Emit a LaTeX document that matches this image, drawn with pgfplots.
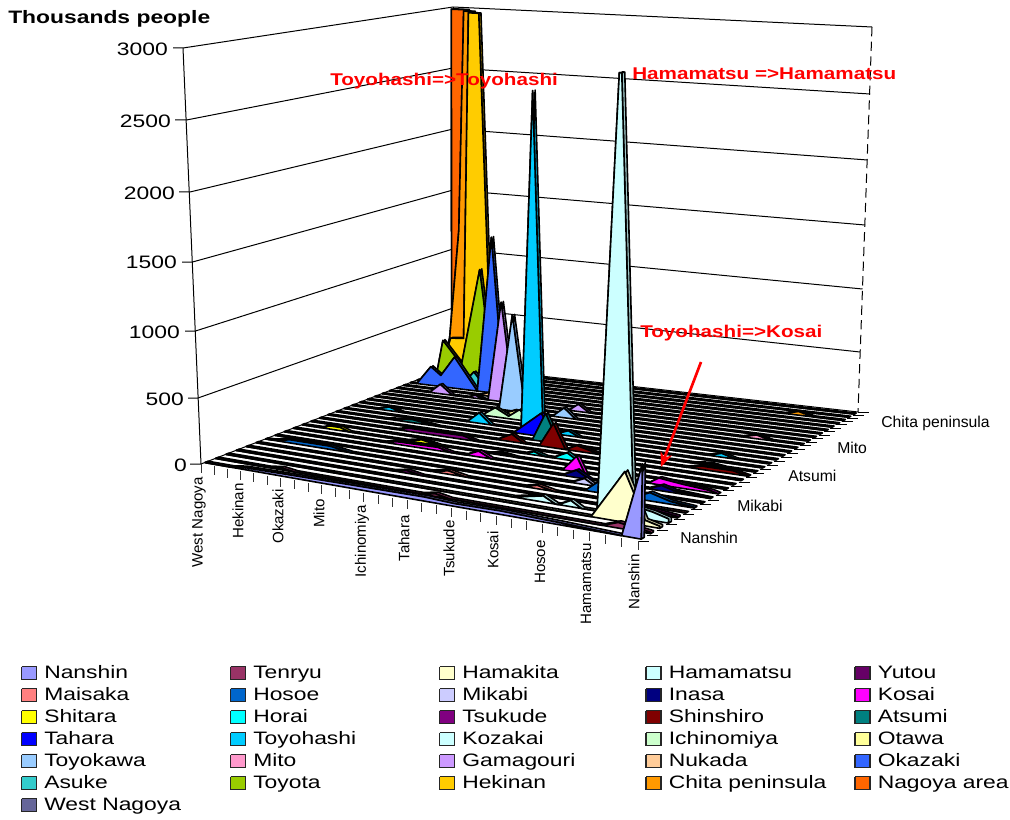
\documentclass[border=0pt]{standalone}
\usepackage{fontspec}
\usepackage{pgfplots}
\pgfplotsset{compat=1.18}
\usetikzlibrary{arrows.meta}
\setmainfont{Liberation Sans}
\newfontfamily\wide[FakeStretch=1.27]{Liberation Sans}
\newfontfamily\redf[FakeStretch=1.215]{Liberation Sans}
\definecolor{c1}{HTML}{9999FF}\definecolor{c2}{HTML}{993366}\definecolor{c3}{HTML}{FFFFCC}
\definecolor{c4}{HTML}{CCFFFF}\definecolor{c5}{HTML}{660066}\definecolor{c6}{HTML}{FF8080}
\definecolor{c7}{HTML}{0066CC}\definecolor{c8}{HTML}{CCCCFF}\definecolor{c9}{HTML}{000080}
\definecolor{c10}{HTML}{FF00FF}\definecolor{c11}{HTML}{FFFF00}\definecolor{c12}{HTML}{00FFFF}
\definecolor{c13}{HTML}{800080}\definecolor{c14}{HTML}{800000}\definecolor{c15}{HTML}{008080}
\definecolor{c16}{HTML}{0000FF}\definecolor{c17}{HTML}{00CCFF}\definecolor{c18}{HTML}{CCFFFF}
\definecolor{c19}{HTML}{CCFFCC}\definecolor{c20}{HTML}{FFFF99}\definecolor{c21}{HTML}{99CCFF}
\definecolor{c22}{HTML}{FF99CC}\definecolor{c23}{HTML}{CC99FF}\definecolor{c24}{HTML}{FFCC99}
\definecolor{c25}{HTML}{3366FF}\definecolor{c26}{HTML}{33CCCC}\definecolor{c27}{HTML}{99CC00}
\definecolor{c28}{HTML}{FFCC00}\definecolor{c29}{HTML}{FF9900}\definecolor{c30}{HTML}{FF6600}
\definecolor{c31}{HTML}{666699}
% (category, depth, value) -> picture position
\newcommand\PT[3]{%
 \pgfmathsetmacro\uU{(31-#1)/30}%
 \pgfmathsetmacro\sU{\uU/(1+0.121*(1-\uU))}%
 \pgfmathsetmacro\sV{#2/(#2+(1-#2)*0.75)}%
 \pgfmathsetmacro\fx{201+437*\sU}\pgfmathsetmacro\fy{464+77*\sU}%
 \pgfmathsetmacro\ex{453+405*\sU}\pgfmathsetmacro\ey{366+46*\sU}%
 \pgfmathsetmacro\bx{\fx+(\ex-\fx)*\sV}\pgfmathsetmacro\by{\fy+(\ey-\fy)*\sV}%
 \pgfmathsetmacro\fx{183+462*\sU}\pgfmathsetmacro\fy{48+37*\sU}%
 \pgfmathsetmacro\ex{453+419*\sU}\pgfmathsetmacro\ey{7+20*\sU}%
 \pgfmathsetmacro\tx{\fx+(\ex-\fx)*\sV}\pgfmathsetmacro\ty{\fy+(\ey-\fy)*\sV}%
 \pgfmathsetmacro\fF{#3/3000}%
 \pgfmathsetmacro\wW{\fF/(\fF+1.06*(1-\fF))}%
 \pgfmathsetmacro\px{\bx+(\tx-\bx)*\wW}\pgfmathsetmacro\py{\by+(\ty-\by)*\wW}%
}
\newcommand\series[3]{%
 \pgfmathsetmacro\vf{(#1-0.5-0.16)/31}%
 \pgfmathsetmacro\vb{(#1-0.5+0.16)/31}%
 \gdef\fP{}\gdef\rB{}%
 \foreach \cc/\vv in {#3}{%
   \PT{\cc}{\vf}{\vv}\xdef\fP{\fP(\px,\py) }%
   \PT{\cc}{\vb}{\vv}\xdef\rB{(\px,\py) \rB}%
 }%
 \PT{1}{\vf}{0}\edef\eF{(\px,\py)}%
 \PT{1}{\vb}{0}\edef\eB{(\px,\py)}%
 \PT{31}{\vf}{0}\edef\sF{(\px,\py)}%
 \edef\tmp{\noexpand\addplot[draw=black,line width=1.2pt,line join=round,fill=#2!78!black] coordinates {\fP \eF \eB \rB \sF};}\tmp
 \edef\tmp{\noexpand\addplot[draw=black,line width=1.2pt,line join=round,fill=#2] coordinates {\fP \eF \sF};}\tmp
}
\newcommand\lgd[4]{%
 \pgfmathsetmacro\xa{#1}\pgfmathsetmacro\xb{#1+15}\pgfmathsetmacro\ya{#2-6.5}\pgfmathsetmacro\yb{#2+6.5}\pgfmathsetmacro\xt{#1+22.5}\pgfmathsetmacro\yt{#2+1.5}%
 \edef\tmp{\noexpand\addplot[draw=black!85,line width=0.9pt,fill=#3] coordinates {(\xa,\ya) (\xb,\ya) (\xb,\yb) (\xa,\yb) (\xa,\ya)};}\tmp
 \edef\tmp{\noexpand\node[anchor=west,inner sep=0pt,font=\noexpand\wide\noexpand\fontsize{13.5}{15}\noexpand\selectfont] at (axis cs:\xt,\yt) {\noexpand\strut #4};}\tmp
}
\newcommand\catlab[3]{\node[rotate=90,anchor=east,inner sep=0pt,font=\fontsize{11.3}{12}\selectfont] at (axis cs:#1,#2) {#3};}
\newcommand\ylab[3]{\node[anchor=east,inner sep=0pt,font=\wide\fontsize{13.5}{15}\selectfont] at (axis cs:#1,#2) {#3};}
\newcommand\dlab[3]{\node[anchor=west,inner sep=0pt,font=\fontsize{11.8}{13}\selectfont] at (axis cs:#1,#2) {#3};}
\newcommand\rlab[3]{\node[anchor=west,inner sep=0pt,text=red,font=\redf\bfseries\fontsize{12.75}{14}\selectfont] at (axis cs:#1,#2) {#3};}
\begin{document}
\begin{tikzpicture}
\begin{axis}[scale only axis,width=757.5pt,height=615pt,xmin=0,xmax=1010,ymin=0,ymax=820,y dir=reverse,hide axis,clip=false,no markers]
\path (axis cs:0,0) rectangle (axis cs:1010,820);
% left wall
\addplot[black,line width=0.75pt] coordinates {(183,48) (201,464)};
\addplot[black,line width=0.75pt] coordinates {(173,48) (183,48) (453,7) (872,27)};
\addplot[black,line width=0.75pt] coordinates {(175,120) (186.5,120) (453,68) (870,94)};
\addplot[black,line width=0.75pt] coordinates {(179,192) (190,192) (453,129) (867.5,160)};
\addplot[black,line width=0.75pt] coordinates {(182,262) (192.5,262) (453,190) (865,225)};
\addplot[black,line width=0.75pt] coordinates {(185,331) (195.5,331) (453,249) (862.5,289)};
\addplot[black,line width=0.75pt] coordinates {(188,398) (198,398) (453,308) (860,352)};
\addplot[black,line width=0.75pt] coordinates {(190,464) (201,464) (453,366) (858,412)};
\addplot[black,line width=0.75pt] coordinates {(453,7) (453,366)};
\addplot[black,line width=0.75pt,dash pattern=on 7pt off 4pt] coordinates {(872,27) (858,412)};
% depth ticks
\foreach \j in {0,...,31}{%
 \pgfmathsetmacro\vt{\j/31}\PT{1}{\vt}{0}\pgfmathsetmacro\pxx{\px+11}%
 \edef\tmp{\noexpand\addplot[black,line width=0.75pt] coordinates {(\px,\py) (\pxx,\py)};}\tmp}
% category ticks
\foreach \k in {1,...,31}{%
 \PT{\k}{0}{0}\pgfmathsetmacro\pyy{\py+9}%
 \edef\tmp{\noexpand\addplot[black!80,line width=0.75pt] coordinates {(\px,\py) (\px,\pyy)};}\tmp}
% series, back to front: category/value
\series{31}{c31}{31/0,1/0}
\series{30}{c30}{31/0,30.26/0,30.25/3000,29.0/3000,28.5/300,27.5/0,1/0}
\series{29}{c29}{31/0,30.5/0,29.9/320,29.15/1230,28.75/3000,28.0/3000,27.2/800,26.5/0,5/0,4/30,3/0,1/0}
\series{28}{c28}{31/0,30.3/0,29.3/340,28.25/350,27.85/3000,27.05/3000,26.1/300,25.3/0,1/0}
\series{27}{c27}{31/0,30/0,29.4/340,27.9/150,26.45/970,25.3/0,16.9/0,16/30,15.1/0,1/0}
\series{26}{c26}{31/0,27.4/0,26.4/130,25.4/0,1/0}
\series{25}{c25}{31/0,30.45/0,29.3/160,28.5/95,27.4/265,25.6/0,24.5/1290,23.5/0,1/0}
\series{24}{c24}{31/0,25/0,24.2/30,23.4/0,1/0}
\series{23}{c23}{31/0,28.3/0,27.45/80,26.5/0,25.3/0,24.7/25,24/0,23.7/0,22.7/820,21.7/0,17.6/0,16.9/60,16.1/0,1/0}
\series{22}{c22}{31/0,5/0,4/30,3/0,1/0}
\series{21}{c21}{31/0,21.8/0,20.8/780,19.8/0,17.8/0,16.96/80,16.1/0,1/0}
\series{20}{c20}{31/0,21/0,20.1/40,19.3/0,1/0}
\series{19}{c19}{31/0,22/0,21/75,20/20,19.2/85,18.3/0,1/0}
\series{18}{c18}{31/0,1/0}
\series{17}{c17}{31/0,29/0,28/30,27/0,22/0,21.1/85,20.2/0,18/0,17.2/2600,16.4/0,15.5/0,14.6/40,13.8/0,5/0,4.1/30,3.2/0,1/0}
\series{16}{c16}{31/0,18/0,16/185,15/0,1/0}
\series{15}{c15}{31/0,27/0,25/25,23/0,16.1/0,15.15/225,14.2/0,5/0,4/15,3/0,1/0}
\series{14}{c14}{31/0,18.1/0,17/60,16.15/0,15.05/0,14.05/190,13.2/0,12.4/45,10.8/0,5/0,4/25,2/25,1/0}
\series{13}{c13}{31/0,25/0,24/25,20/30,19/0,1/0}
\series{12}{c12}{31/0,15/0,14.3/25,13.5/0,13/0,12/55,11.2/0,1/0}
\series{11}{c11}{31/0,29.5/0,28.8/25,28/25,27.3/0,23/0,21.8/25,20.5/0,17/0,16/15,15/0,1/0}
\series{10}{c10}{31/0,24/0,23/20,20/25,19/0,18/0,17.05/45,16.2/0,11.2/0,10.25/120,9.7/0,5.5/0,4.8/50,3.2/30,1.5/15,1/0}
\series{9}{c9}{31/0,10.7/0,9.7/55,8.8/0,5/0,4.1/40,3.3/15,1/0}
\series{8}{c8}{31/0,9.5/0,8.6/45,7.9/0,1/0}
\series{7}{c7}{31/0,30.5/0,29/25,26/25,24.5/0,8/0,7.1/85,6/60,5.2/0,5/0,3.8/60,2.5/20,1/5}
\series{6}{c6}{31/0,18/0,16.7/25,15.5/0,11.5/0,10.6/25,9.5/0,1/0}
\series{5}{c5}{31/0,20/0,19/20,18/0,5/0,4/35,3/35,1/10}
\series{4}{c4}{31/0,11/0,9/45,8.2/0,8/0,7.2/45,6.5/0,5.5/0,4.4/3000,4.25/3000,3.2/80,2/60,1/30}
\series{3}{c3}{31/0,5.3/0,3.2/360,1.9/40,1/15}
\series{2}{c2}{31/0,27/0,26/15,25/0,16/0,15/20,14/0,4/0,3/40,2/25,1/10}
\series{1}{c1}{31/0,29/0,28/15,24/20,20/25,15/30,13/20,10/25,6/15,2.2/0,1/520}
% axis texts
\node[anchor=west,inner sep=0pt,font=\wide\bfseries\fontsize{13.5}{15}\selectfont] at (axis cs:8,19) {Thousands people};
\ylab{168}{49}{3000}\ylab{171}{121}{2500}\ylab{175}{193}{2000}\ylab{177}{262}{1500}\ylab{180}{332}{1000}\ylab{184}{399}{500}\ylab{187}{465}{0}
\catlab{199}{477}{West Nagoya}\catlab{238}{483}{Hekinan}\catlab{278}{489}{Okazaki}\catlab{319}{499}{Mito}
\catlab{362}{505}{Ichinomiya}\catlab{404}{515}{Tahara}\catlab{449}{520}{Tsukude}\catlab{493}{531}{Kosai}
\catlab{540}{540}{Hosoe}\catlab{586}{543}{Hamamatsu}\catlab{634}{554}{Nanshin}
\dlab{680}{538}{Nanshin}\dlab{737}{506}{Mikabi}\dlab{788}{476}{Atsumi}\dlab{837}{448}{Mito}\dlab{881}{423}{Chita peninsula}
\rlab{330}{81}{Toyohashi=>Toyohashi}
\rlab{632}{74}{Hamamatsu =>Hamamatsu}
\rlab{640}{333}{Toyohashi=>Kosai}
\draw[red,line width=2pt,-{Stealth[length=11pt,width=9pt]}] (axis cs:701,362) -- (axis cs:661,467);
% legend
\lgd{21.5}{673}{c1}{Nanshin}\lgd{230.5}{673}{c2}{Tenryu}\lgd{439.5}{673}{c3}{Hamakita}\lgd{646}{673}{c4}{Hamamatsu}\lgd{855}{673}{c5}{Yutou}
\lgd{21.5}{695}{c6}{Maisaka}\lgd{230.5}{695}{c7}{Hosoe}\lgd{439.5}{695}{c8}{Mikabi}\lgd{646}{695}{c9}{Inasa}\lgd{855}{695}{c10}{Kosai}
\lgd{21.5}{717}{c11}{Shitara}\lgd{230.5}{717}{c12}{Horai}\lgd{439.5}{717}{c13}{Tsukude}\lgd{646}{717}{c14}{Shinshiro}\lgd{855}{717}{c15}{Atsumi}
\lgd{21.5}{739}{c16}{Tahara}\lgd{230.5}{739}{c17}{Toyohashi}\lgd{439.5}{739}{c18}{Kozakai}\lgd{646}{739}{c19}{Ichinomiya}\lgd{855}{739}{c20}{Otawa}
\lgd{21.5}{761}{c21}{Toyokawa}\lgd{230.5}{761}{c22}{Mito}\lgd{439.5}{761}{c23}{Gamagouri}\lgd{646}{761}{c24}{Nukada}\lgd{855}{761}{c25}{Okazaki}
\lgd{21.5}{783}{c26}{Asuke}\lgd{230.5}{783}{c27}{Toyota}\lgd{439.5}{783}{c28}{Hekinan}\lgd{646}{783}{c29}{Chita peninsula}\lgd{855}{783}{c30}{Nagoya area}
\lgd{21.5}{805}{c31}{West Nagoya}
\end{axis}
\end{tikzpicture}
\end{document}
